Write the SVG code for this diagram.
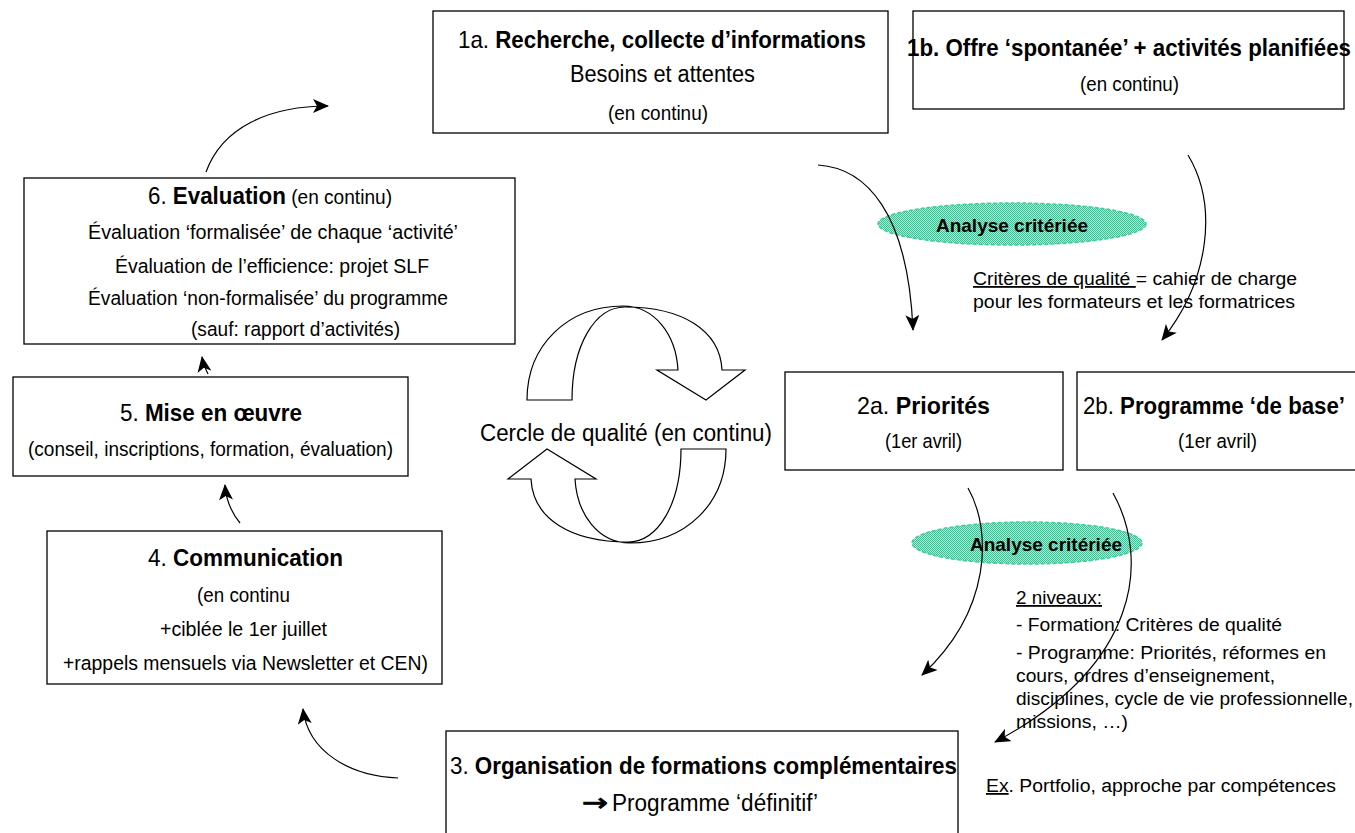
<svg xmlns="http://www.w3.org/2000/svg" width="1355" height="833" viewBox="0 0 1355 833">
<defs>
<pattern id="dith" width="2" height="2" patternUnits="userSpaceOnUse">
<rect width="2" height="2" fill="#a8ecd6"/>
<rect width="1" height="1" fill="#2cc694"/>
<rect x="1" y="1" width="1" height="1" fill="#2cc694"/>
</pattern>
<marker id="ah" markerUnits="userSpaceOnUse" markerWidth="16" markerHeight="14" refX="15" refY="7" orient="auto" viewBox="0 0 16 14">
<path d="M0,0 L16,7 L0,14 L4,7 Z" fill="#000"/>
</marker>
<path id="bigArrow" d="M527,400 C527,345 568,306 623,306 C655,306 676,335 678,370 L657,370 L706,400 L745,370 L722,370 C720,330 682,307 625,307 C595,307 572,345 572,400 Z"/>
</defs>
<style>
.box{fill:#fff;stroke:#000;stroke-width:1.3}
text{font-family:"Liberation Sans",Arial,sans-serif;fill:#000}
.t{font-size:24px}
.b{font-weight:bold}
.n{font-size:20.5px}
.s{font-size:18px}
.c{fill:none;stroke:#000;stroke-width:1.2;marker-end:url(#ah)}
.ell{fill:url(#dith);stroke:#3ccf9e;stroke-width:1.5;stroke-dasharray:4 2}
.cyc{fill:#fff;stroke:#000;stroke-width:1.2}
</style>

<g id="n1a">
<rect class="box" x="433" y="11" width="455" height="122"/>
<text class="t" x="458" y="48" textLength="408" lengthAdjust="spacingAndGlyphs">1a. <tspan class="b">Recherche, collecte d’informations</tspan></text>
<text class="n" x="570" y="82" textLength="185" lengthAdjust="spacingAndGlyphs" style="font-size:23px">Besoins et attentes</text>
<text class="n" x="608" y="120" textLength="100" lengthAdjust="spacingAndGlyphs">(en continu)</text>
</g>

<g id="n1b">
<rect class="box" x="913" y="11" width="431" height="98"/>
<text class="t b" x="907" y="56" textLength="444" lengthAdjust="spacingAndGlyphs">1b. Offre ‘spontanée’ + activités planifiées</text>
<text class="n" x="1080" y="91" textLength="99" lengthAdjust="spacingAndGlyphs">(en continu)</text>
</g>

<g id="e1">
<ellipse class="ell" cx="1012" cy="224" rx="134" ry="21"/>
<text class="b" x="936" y="232" style="font-size:19px" textLength="152" lengthAdjust="spacingAndGlyphs">Analyse critériée</text>
</g>

<g id="note1">
<text class="s" x="973" y="285" textLength="324" lengthAdjust="spacingAndGlyphs"><tspan text-decoration="underline">Critères de qualité </tspan>= cahier de charge</text>
<text class="s" x="973" y="308" textLength="322" lengthAdjust="spacingAndGlyphs">pour les formateurs et les formatrices</text>
</g>

<g id="n2a">
<rect class="box" x="785" y="372" width="278" height="98"/>
<text class="t" x="857" y="414" textLength="133" lengthAdjust="spacingAndGlyphs">2a. <tspan class="b">Priorités</tspan></text>
<text class="n" x="885" y="448" textLength="77" lengthAdjust="spacingAndGlyphs">(1er avril)</text>
</g>

<g id="n2b">
<rect class="box" x="1077" y="372" width="290" height="98"/>
<text class="t" x="1083" y="414" textLength="262" lengthAdjust="spacingAndGlyphs">2b. <tspan class="b">Programme ‘de base’</tspan></text>
<text class="n" x="1178" y="448" textLength="79" lengthAdjust="spacingAndGlyphs">(1er avril)</text>
</g>

<g id="e2">
<ellipse class="ell" cx="1027" cy="543" rx="115" ry="21"/>
<text class="b" x="970" y="551" style="font-size:19px" textLength="152" lengthAdjust="spacingAndGlyphs">Analyse critériée</text>
</g>

<g id="note2">
<text class="s" x="1016" y="604" textLength="86" lengthAdjust="spacingAndGlyphs" text-decoration="underline">2 niveaux:</text>
<text class="s" x="1016" y="631" textLength="266" lengthAdjust="spacingAndGlyphs">- Formation: Critères de qualité</text>
<text class="s" x="1016" y="659" textLength="310" lengthAdjust="spacingAndGlyphs">- Programme: Priorités, réformes en</text>
<text class="s" x="1016" y="682" textLength="259" lengthAdjust="spacingAndGlyphs">cours, ordres d’enseignement,</text>
<text class="s" x="1016" y="705" textLength="337" lengthAdjust="spacingAndGlyphs">disciplines, cycle de vie professionnelle,</text>
<text class="s" x="1016" y="728" textLength="112" lengthAdjust="spacingAndGlyphs">missions, …)</text>
</g>

<g id="note3">
<text class="s" x="986" y="792" textLength="350" lengthAdjust="spacingAndGlyphs"><tspan text-decoration="underline">Ex</tspan>. Portfolio, approche par compétences</text>
</g>

<g id="n3">
<rect class="box" x="446" y="731" width="512" height="110"/>
<text class="t" x="450" y="774" textLength="507" lengthAdjust="spacingAndGlyphs">3. <tspan class="b">Organisation de formations complémentaires</tspan></text>
<text x="582" y="811" style="font-family:'DejaVu Sans',sans-serif;font-size:24px;stroke:#000;stroke-width:0.8" textLength="26" lengthAdjust="spacingAndGlyphs">→</text>
<text class="n" x="612" y="811" textLength="206" lengthAdjust="spacingAndGlyphs" style="font-size:23px">Programme ‘définitif’</text>
</g>

<g id="n4">
<rect class="box" x="47" y="531" width="395" height="153"/>
<text class="t" x="148" y="566" textLength="195" lengthAdjust="spacingAndGlyphs">4. <tspan class="b">Communication</tspan></text>
<text class="n" x="197" y="602" textLength="93" lengthAdjust="spacingAndGlyphs">(en continu</text>
<text class="n" x="160" y="636" textLength="167" lengthAdjust="spacingAndGlyphs">+ciblée le 1er juillet</text>
<text class="n" x="63" y="670" textLength="365" lengthAdjust="spacingAndGlyphs">+rappels mensuels via Newsletter et CEN)</text>
</g>

<g id="n5">
<rect class="box" x="13" y="377" width="395" height="99"/>
<text class="t" x="120" y="421" textLength="182" lengthAdjust="spacingAndGlyphs">5. <tspan class="b">Mise en œuvre</tspan></text>
<text class="n" x="28" y="456" textLength="365" lengthAdjust="spacingAndGlyphs">(conseil, inscriptions, formation, évaluation)</text>
</g>

<g id="n6">
<rect class="box" x="24" y="178" width="491" height="166"/>
<text class="t" x="148" y="204" textLength="244" lengthAdjust="spacingAndGlyphs">6. <tspan class="b">Evaluation</tspan><tspan style="font-size:20.5px"> (en continu)</tspan></text>
<text class="n" x="88" y="239" textLength="370" lengthAdjust="spacingAndGlyphs">Évaluation ‘formalisée’ de chaque ‘activité’</text>
<text class="n" x="115" y="273" textLength="314" lengthAdjust="spacingAndGlyphs">Évaluation de l’efficience: projet SLF</text>
<text class="n" x="88" y="305" textLength="360" lengthAdjust="spacingAndGlyphs">Évaluation ‘non-formalisée’ du programme</text>
<text class="n" x="191" y="336" textLength="209" lengthAdjust="spacingAndGlyphs">(sauf: rapport d’activités)</text>
</g>

<g id="cycle">
<use href="#bigArrow" class="cyc"/>
<use href="#bigArrow" class="cyc" transform="rotate(180 626.5 424.5)"/>
<text x="480" y="441" style="font-size:23px" textLength="292" lengthAdjust="spacingAndGlyphs">Cercle de qualité (en continu)</text>
</g>

<g id="connectors">
<path class="c" d="M206,172 C222,128 268,106 328,106"/>
<path class="c" d="M818,165 C866,168 908,212 913,330"/>
<path class="c" d="M1188,155 C1218,205 1210,280 1162,340"/>
<path class="c" d="M968,488 C992,530 992,610 922,675"/>
<path class="c" d="M1113,493 C1150,560 1140,665 995,742"/>
<path class="c" d="M398,778 C350,776 308,752 303,709"/>
<path class="c" d="M240,523 C231,512 226,500 225,485"/>
<path class="c" d="M208,374 C205,368 203,363 202,357"/>
</g>
</svg>
